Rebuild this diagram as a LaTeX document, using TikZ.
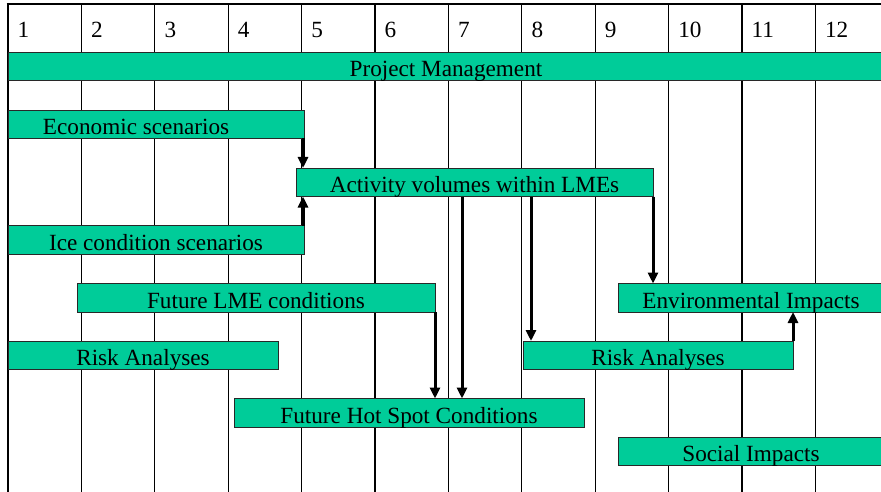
\documentclass[tikz,border=0pt]{standalone}
\usepackage{fontspec}
\setmainfont{Liberation Serif}
\usetikzlibrary{arrows.meta}
\definecolor{barfill}{RGB}{0,204,153}
\definecolor{barline}{RGB}{40,40,40}
\tikzset{
  bar/.style={draw=barline, line width=0.9pt, fill=barfill, inner sep=0pt, outer sep=0pt,
    minimum height=28.5pt, text height=24.5pt, text depth=4pt, anchor=north west},
  hdr/.style={inner sep=0pt, anchor=base west},
  gridline/.style={draw=black, line width=1.1pt},
  border/.style={draw=black, line width=2.6pt},
  flow/.style={draw=black, line width=3pt, -{Triangle[length=11pt,width=10pt]}, shorten >=0pt}
}
\begin{document}
\begin{tikzpicture}[x=1pt,y=-1pt, every node/.style={font=\fontsize{23.2}{28}\selectfont}]
\useasboundingbox (0,0) rectangle (881,492);
\fill[white] (0,0) rectangle (881,492);
% grid
\foreach \k in {1,...,11} {
  \draw[gridline] ({8+73.4*\k},4) -- ({8+73.4*\k},493);
}
\draw[border] (8,3) -- (8,493);
\draw[border] (6.7,4) -- (883,4);
% header numbers
\foreach \k in {1,...,12} {
  \node[hdr] (h\k) at ({8+73.4*(\k-1)+9.5},38) {\k};
}
% bars
\node[bar, minimum width=876pt] (pm) at (8,52) {Project Management};
\node[bar, minimum width=296pt] (eco) at (8,110) {\makebox[296pt][l]{\hspace{35pt}Economic scenarios}};
\node[bar, minimum width=357pt] (act) at (296,168) {Activity volumes within LMEs};
\node[bar, minimum width=296pt] (ice) at (8,225.5) {Ice condition scenarios};
\node[bar, minimum width=358pt] (lme) at (77,283.5) {Future LME conditions};
\node[bar, minimum width=266pt] (env) at (618,283.5) {\makebox[263pt]{Environmental Impacts}};
\node[bar, minimum width=270pt] (riskL) at (8,341) {Risk Analyses};
\node[bar, minimum width=270pt] (riskR) at (523,341) {Risk Analyses};
\node[bar, minimum width=350pt] (hot) at (234,398.5) {Future Hot Spot Conditions};
\node[bar, minimum width=266pt] (soc) at (618,437) {\makebox[263pt]{Social Impacts}};
% arrows
\draw[flow] ([xshift=-1pt]eco.south east) -- ([xshift=-1pt]eco.south east |- act.north);
\draw[flow] ([xshift=-1pt]ice.north east) -- ([xshift=-1pt]ice.north east |- act.south);
\draw[flow] (lme.south east) -- (lme.south east |- hot.north);
\draw[flow] ([xshift=166pt]act.south west) -- ([xshift=166pt]act.south west |- hot.north);
\draw[flow] ([xshift=235pt]act.south west) -- ([xshift=235pt]act.south west |- riskR.north);
\draw[flow] (act.south east) -- (act.south east |- env.north);
\draw[flow] (riskR.north east) -- (riskR.north east |- env.south);
\end{tikzpicture}
\end{document}
